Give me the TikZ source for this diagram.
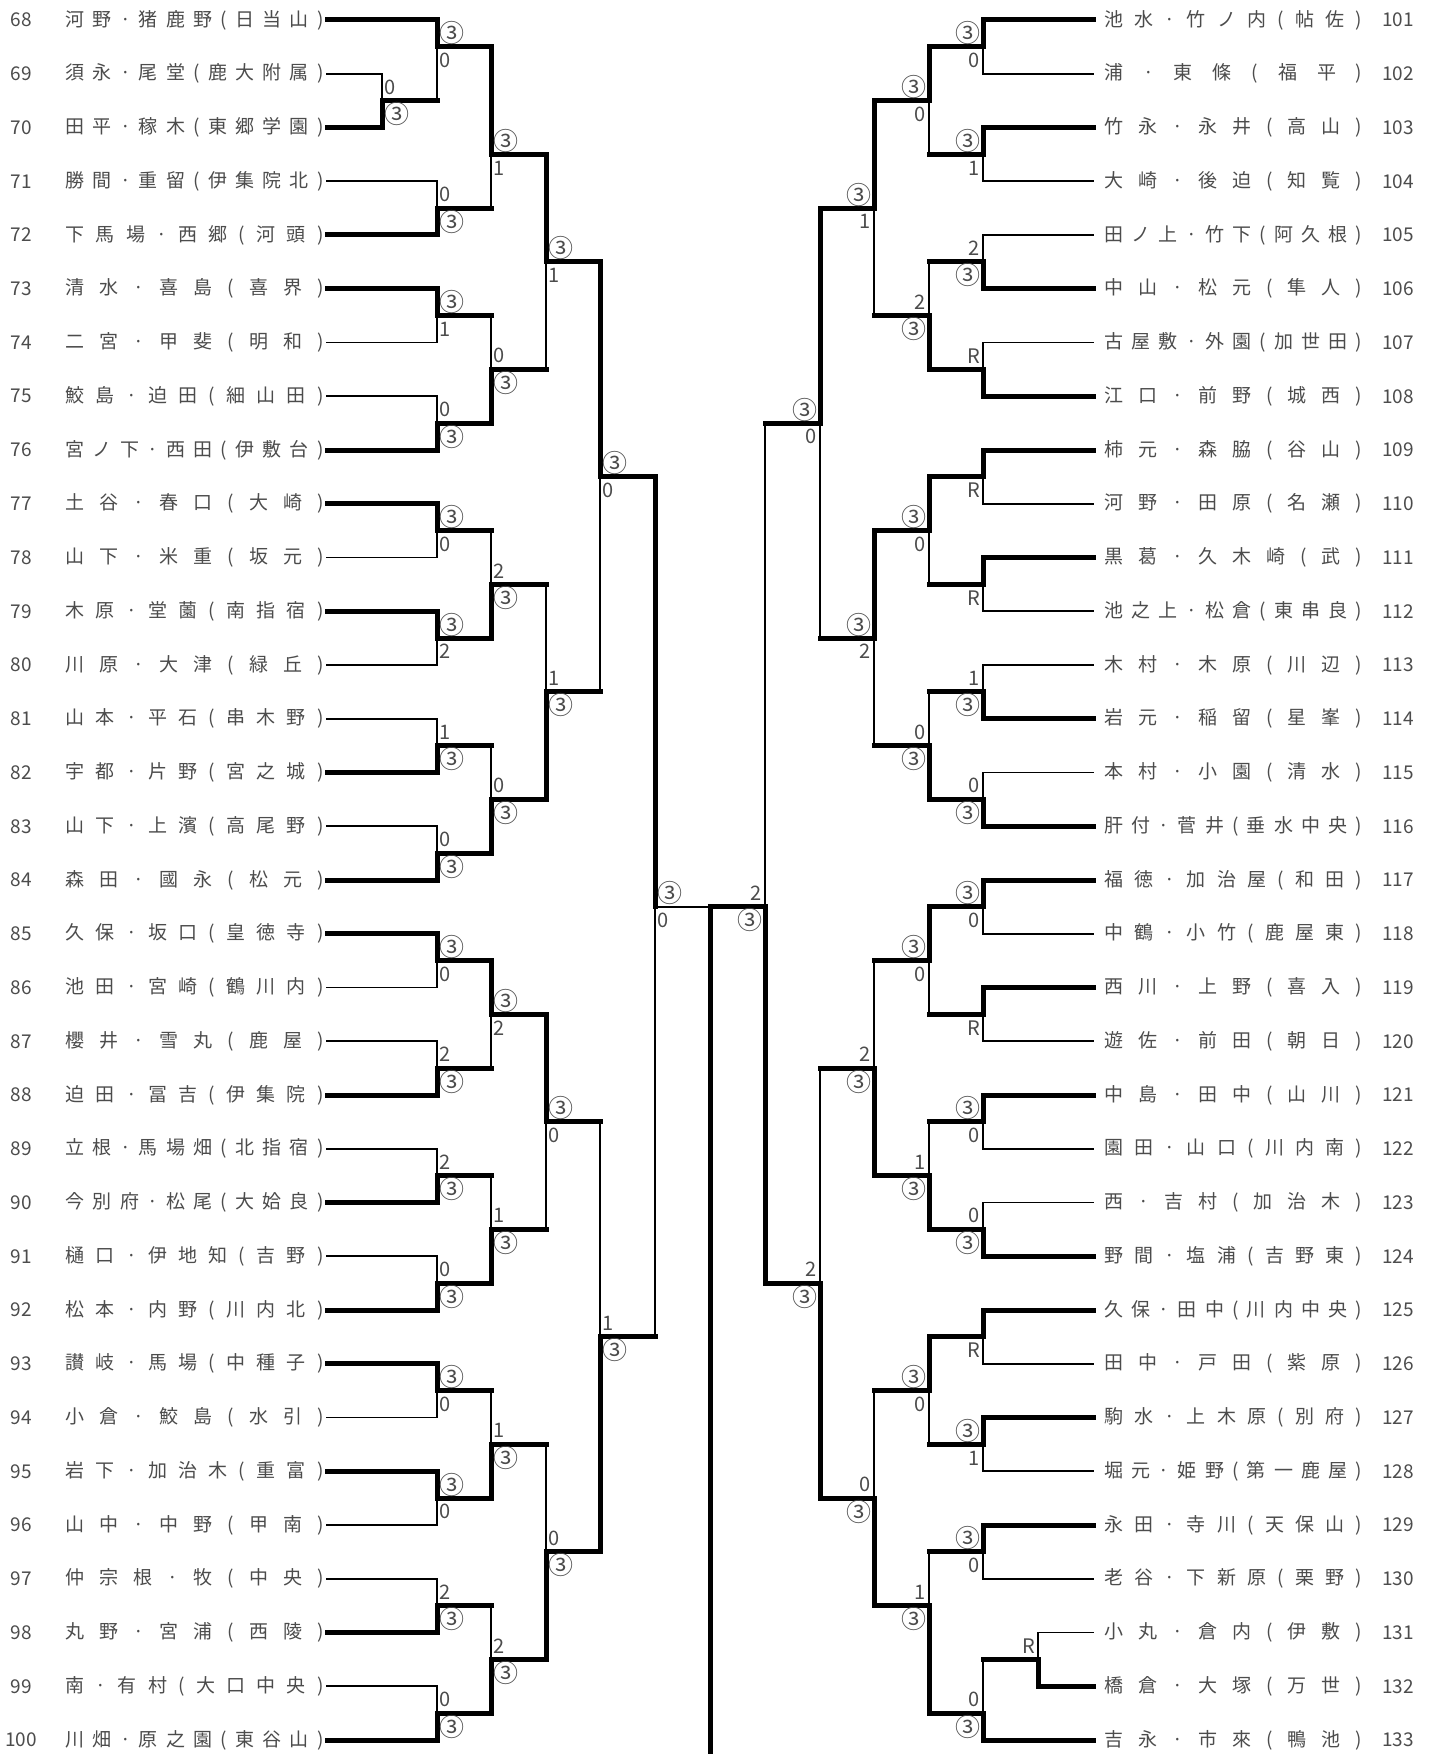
\documentclass[tikz,border=0pt]{standalone}
\usepackage{fontspec}
\setmainfont{Noto Sans CJK JP}
\definecolor{txt}{gray}{0.3}
\def\distx#1#2\enddist{#1\ifx\relax#2\relax\else\hfill\distx#2\enddist\fi}
\newcommand\dist[1]{\makebox[129pt][s]{\distx#1\enddist}}
\newcommand\C{{\fontsize{12.5}{13}\selectfont ③}}
\tikzset{
  thk/.style={line width=2.5pt, line cap=rect},
  thn/.style={line width=0.85pt, line cap=rect},
  lname/.style={inner sep=0pt, font=\fontsize{9.5}{11}\selectfont, text=txt},
  num/.style={inner sep=0pt, font=\fontsize{9.5}{11}\selectfont, text=txt},
  lab/.style={inner sep=0pt, font=\fontsize{10}{11}\selectfont, text=txt},
}
\newcount\mn
% left entry: number, row, name, x end, style
\newcommand\LE[5]{%
  \node[num] (nL#1) at (21,#2) {#1};
  \node[lname,anchor=east] (L#1) at (324,#2) {\dist{#3}};
  \draw[#5] ([xshift=1.5pt]L#1.east) -- (#4,#2);
}
\newcommand\RE[5]{%
  \node[num] (nR#1) at (1398,#2) {#1};
  \node[lname,anchor=west] (R#1) at (1104,#2) {\dist{#3}};
  \draw[#5] ([xshift=-5.5pt]R#1.west) -- (#4,#2);
}
% match: xv, itop, ibot, ijunction, xnext, winner t/b, label top, label bottom, out style
\newcommand\LM[9]{%
  \global\advance\mn by 1 \edef\mm{\the\mn}%
  \coordinate (m\mm a) at (#1,#2);
  \coordinate (m\mm b) at (#1,#3);
  \coordinate (m\mm j) at (#1,#4);
  \coordinate (m\mm n) at (#5,#4);
  \if t#6
    \draw[thn] (m\mm j) -- (m\mm b);
    \draw[thk] (m\mm a) -- (m\mm j);
  \else
    \draw[thn] (m\mm a) -- (m\mm j);
    \draw[thk] (m\mm j) -- (m\mm b);
  \fi
  \draw[#9] (m\mm j) -- (m\mm n);
  \node[lab,anchor=west,yshift=6.8pt] (m\mm u) at ([xshift=0.8pt]m\mm j) {#7};
  \node[lab,anchor=west,yshift=-6.8pt] (m\mm d) at ([xshift=0.8pt]m\mm j) {#8};
}
\newcommand\RM[9]{%
  \global\advance\mn by 1 \edef\mm{\the\mn}%
  \coordinate (m\mm a) at (#1,#2);
  \coordinate (m\mm b) at (#1,#3);
  \coordinate (m\mm j) at (#1,#4);
  \coordinate (m\mm n) at (#5,#4);
  \if t#6
    \draw[thn] (m\mm j) -- (m\mm b);
    \draw[thk] (m\mm a) -- (m\mm j);
  \else
    \draw[thn] (m\mm a) -- (m\mm j);
    \draw[thk] (m\mm j) -- (m\mm b);
  \fi
  \draw[#9] (m\mm j) -- (m\mm n);
  \node[lab,anchor=east,yshift=6.8pt] (m\mm u) at ([xshift=-1.3pt]m\mm j) {#7};
  \node[lab,anchor=east,yshift=-6.8pt] (m\mm d) at ([xshift=-1.3pt]m\mm j) {#8};
}
\begin{document}
\begin{tikzpicture}[x=0.5pt,y=-26.875pt]
\useasboundingbox (0,-0.37209) rectangle (1437,32.26047);
\fill[white] (0,-0.37209) rectangle (1437,32.26047);
% ---------- left entries
\LE{68}{0}{河野·猪鹿野(日当山)}{437}{thk}
\LE{69}{1}{須永·尾堂(鹿大附属)}{382}{thn}
\LE{70}{2}{田平·稼木(東郷学園)}{382}{thk}
\LE{71}{3}{勝間·重留(伊集院北)}{437}{thn}
\LE{72}{4}{下馬場·西郷(河頭)}{437}{thk}
\LE{73}{5}{清水·喜島(喜界)}{437}{thk}
\LE{74}{6}{二宮·甲斐(明和)}{437}{thn}
\LE{75}{7}{鮫島·迫田(細山田)}{437}{thn}
\LE{76}{8}{宮ノ下·西田(伊敷台)}{437}{thk}
\LE{77}{9}{土谷·春口(大崎)}{437}{thk}
\LE{78}{10}{山下·米重(坂元)}{437}{thn}
\LE{79}{11}{木原·堂薗(南指宿)}{437}{thk}
\LE{80}{12}{川原·大津(緑丘)}{437}{thn}
\LE{81}{13}{山本·平石(串木野)}{437}{thn}
\LE{82}{14}{宇都·片野(宮之城)}{437}{thk}
\LE{83}{15}{山下·上濱(高尾野)}{437}{thn}
\LE{84}{16}{森田·國永(松元)}{437}{thk}
\LE{85}{17}{久保·坂口(皇徳寺)}{437}{thk}
\LE{86}{18}{池田·宮崎(鶴川内)}{437}{thn}
\LE{87}{19}{櫻井·雪丸(鹿屋)}{437}{thn}
\LE{88}{20}{迫田·冨吉(伊集院)}{437}{thk}
\LE{89}{21}{立根·馬場畑(北指宿)}{437}{thn}
\LE{90}{22}{今別府·松尾(大姶良)}{437}{thk}
\LE{91}{23}{樋口·伊地知(吉野)}{437}{thn}
\LE{92}{24}{松本·内野(川内北)}{437}{thk}
\LE{93}{25}{讃岐·馬場(中種子)}{437}{thk}
\LE{94}{26}{小倉·鮫島(水引)}{437}{thn}
\LE{95}{27}{岩下·加治木(重富)}{437}{thk}
\LE{96}{28}{山中·中野(甲南)}{437}{thn}
\LE{97}{29}{仲宗根·牧(中央)}{437}{thn}
\LE{98}{30}{丸野·宮浦(西陵)}{437}{thk}
\LE{99}{31}{南·有村(大口中央)}{437}{thn}
\LE{100}{32}{川畑·原之園(東谷山)}{437}{thk}
% ---------- right entries
\RE{101}{0}{池水·竹ノ内(帖佐)}{983}{thk}
\RE{102}{1}{浦·東條(福平)}{983}{thn}
\RE{103}{2}{竹永·永井(高山)}{983}{thk}
\RE{104}{3}{大崎·後迫(知覧)}{983}{thn}
\RE{105}{4}{田ノ上·竹下(阿久根)}{983}{thn}
\RE{106}{5}{中山·松元(隼人)}{983}{thk}
\RE{107}{6}{古屋敷·外園(加世田)}{983}{thn}
\RE{108}{7}{江口·前野(城西)}{983}{thk}
\RE{109}{8}{柿元·森脇(谷山)}{983}{thk}
\RE{110}{9}{河野·田原(名瀬)}{983}{thn}
\RE{111}{10}{黒葛·久木崎(武)}{983}{thk}
\RE{112}{11}{池之上·松倉(東串良)}{983}{thn}
\RE{113}{12}{木村·木原(川辺)}{983}{thn}
\RE{114}{13}{岩元·稲留(星峯)}{983}{thk}
\RE{115}{14}{本村·小園(清水)}{983}{thn}
\RE{116}{15}{肝付·菅井(垂水中央)}{983}{thk}
\RE{117}{16}{福徳·加治屋(和田)}{983}{thk}
\RE{118}{17}{中鶴·小竹(鹿屋東)}{983}{thn}
\RE{119}{18}{西川·上野(喜入)}{983}{thk}
\RE{120}{19}{遊佐·前田(朝日)}{983}{thn}
\RE{121}{20}{中島·田中(山川)}{983}{thk}
\RE{122}{21}{園田·山口(川内南)}{983}{thn}
\RE{123}{22}{西·吉村(加治木)}{983}{thn}
\RE{124}{23}{野間·塩浦(吉野東)}{983}{thk}
\RE{125}{24}{久保·田中(川内中央)}{983}{thk}
\RE{126}{25}{田中·戸田(紫原)}{983}{thn}
\RE{127}{26}{駒水·上木原(別府)}{983}{thk}
\RE{128}{27}{堀元·姫野(第一鹿屋)}{983}{thn}
\RE{129}{28}{永田·寺川(天保山)}{983}{thk}
\RE{130}{29}{老谷·下新原(栗野)}{983}{thn}
\RE{131}{30}{小丸·倉内(伊敷)}{1038}{thn}
\RE{132}{31}{橋倉·大塚(万世)}{1038}{thk}
\RE{133}{32}{吉永·市來(鴨池)}{983}{thk}
% ---------- left matches
\LM{382}{1}{2}{1.5}{437}{b}{0}{\C}{thk}
\LM{437}{0}{1.5}{0.5}{491}{t}{\C}{0}{thk}
\LM{437}{3}{4}{3.5}{491}{b}{0}{\C}{thk}
\LM{437}{5}{6}{5.5}{491}{t}{\C}{1}{thk}
\LM{437}{7}{8}{7.5}{491}{b}{0}{\C}{thk}
\LM{437}{9}{10}{9.5}{491}{t}{\C}{0}{thk}
\LM{437}{11}{12}{11.5}{491}{t}{\C}{2}{thk}
\LM{437}{13}{14}{13.5}{491}{b}{1}{\C}{thk}
\LM{437}{15}{16}{15.5}{491}{b}{0}{\C}{thk}
\LM{437}{17}{18}{17.5}{491}{t}{\C}{0}{thk}
\LM{437}{19}{20}{19.5}{491}{b}{2}{\C}{thk}
\LM{437}{21}{22}{21.5}{491}{b}{2}{\C}{thk}
\LM{437}{23}{24}{23.5}{491}{b}{0}{\C}{thk}
\LM{437}{25}{26}{25.5}{491}{t}{\C}{0}{thk}
\LM{437}{27}{28}{27.5}{491}{t}{\C}{0}{thk}
\LM{437}{29}{30}{29.5}{491}{b}{2}{\C}{thk}
\LM{437}{31}{32}{31.5}{491}{b}{0}{\C}{thk}
\LM{491}{0.5}{3.5}{2.5}{546}{t}{\C}{1}{thk}
\LM{491}{5.5}{7.5}{6.5}{546}{b}{0}{\C}{thk}
\LM{491}{9.5}{11.5}{10.5}{546}{b}{2}{\C}{thk}
\LM{491}{13.5}{15.5}{14.5}{546}{b}{0}{\C}{thk}
\LM{491}{17.5}{19.5}{18.5}{546}{t}{\C}{2}{thk}
\LM{491}{21.5}{23.5}{22.5}{546}{b}{1}{\C}{thk}
\LM{491}{25.5}{27.5}{26.5}{546}{b}{1}{\C}{thk}
\LM{491}{29.5}{31.5}{30.5}{546}{b}{2}{\C}{thk}
\LM{546}{2.5}{6.5}{4.5}{600}{t}{\C}{1}{thk}
\LM{546}{10.5}{14.5}{12.5}{600}{b}{1}{\C}{thk}
\LM{546}{18.5}{22.5}{20.5}{600}{t}{\C}{0}{thk}
\LM{546}{26.5}{30.5}{28.5}{600}{b}{0}{\C}{thk}
\LM{600}{4.5}{12.5}{8.5}{655}{t}{\C}{0}{thk}
\LM{600}{20.5}{28.5}{24.5}{655}{b}{1}{\C}{thk}
\LM{655}{8.5}{24.5}{16.5}{710}{t}{\C}{0}{thn}
% ---------- right matches
\RM{1038}{30}{31}{30.5}{983}{b}{R}{}{thk}
\RM{983}{0}{1}{0.5}{929}{t}{\C}{0}{thk}
\RM{983}{2}{3}{2.5}{929}{t}{\C}{1}{thk}
\RM{983}{4}{5}{4.5}{929}{b}{2}{\C}{thk}
\RM{983}{6}{7}{6.5}{929}{b}{R}{}{thk}
\RM{983}{8}{9}{8.5}{929}{t}{}{R}{thk}
\RM{983}{10}{11}{10.5}{929}{t}{}{R}{thk}
\RM{983}{12}{13}{12.5}{929}{b}{1}{\C}{thk}
\RM{983}{14}{15}{14.5}{929}{b}{0}{\C}{thk}
\RM{983}{16}{17}{16.5}{929}{t}{\C}{0}{thk}
\RM{983}{18}{19}{18.5}{929}{t}{}{R}{thk}
\RM{983}{20}{21}{20.5}{929}{t}{\C}{0}{thk}
\RM{983}{22}{23}{22.5}{929}{b}{0}{\C}{thk}
\RM{983}{24}{25}{24.5}{929}{t}{}{R}{thk}
\RM{983}{26}{27}{26.5}{929}{t}{\C}{1}{thk}
\RM{983}{28}{29}{28.5}{929}{t}{\C}{0}{thk}
\RM{983}{30.5}{32}{31.5}{929}{b}{0}{\C}{thk}
\RM{929}{0.5}{2.5}{1.5}{874}{t}{\C}{0}{thk}
\RM{929}{4.5}{6.5}{5.5}{874}{b}{2}{\C}{thk}
\RM{929}{8.5}{10.5}{9.5}{874}{t}{\C}{0}{thk}
\RM{929}{12.5}{14.5}{13.5}{874}{b}{0}{\C}{thk}
\RM{929}{16.5}{18.5}{17.5}{874}{t}{\C}{0}{thk}
\RM{929}{20.5}{22.5}{21.5}{874}{b}{1}{\C}{thk}
\RM{929}{24.5}{26.5}{25.5}{874}{t}{\C}{0}{thk}
\RM{929}{28.5}{31.5}{29.5}{874}{b}{1}{\C}{thk}
\RM{874}{1.5}{5.5}{3.5}{820}{t}{\C}{1}{thk}
\RM{874}{9.5}{13.5}{11.5}{820}{t}{\C}{2}{thk}
\RM{874}{17.5}{21.5}{19.5}{820}{b}{2}{\C}{thk}
\RM{874}{25.5}{29.5}{27.5}{820}{b}{0}{\C}{thk}
\RM{820}{3.5}{11.5}{7.5}{765}{t}{\C}{0}{thk}
\RM{820}{19.5}{27.5}{23.5}{765}{b}{2}{\C}{thk}
\RM{765}{7.5}{23.5}{16.5}{710}{b}{2}{\C}{thk}
% ---------- champion line
\coordinate (champ) at (710,16.5);
\coordinate (champend) at (710,32.26047);
\draw[thk] (champ) -- (champend);
\end{tikzpicture}
\end{document}
